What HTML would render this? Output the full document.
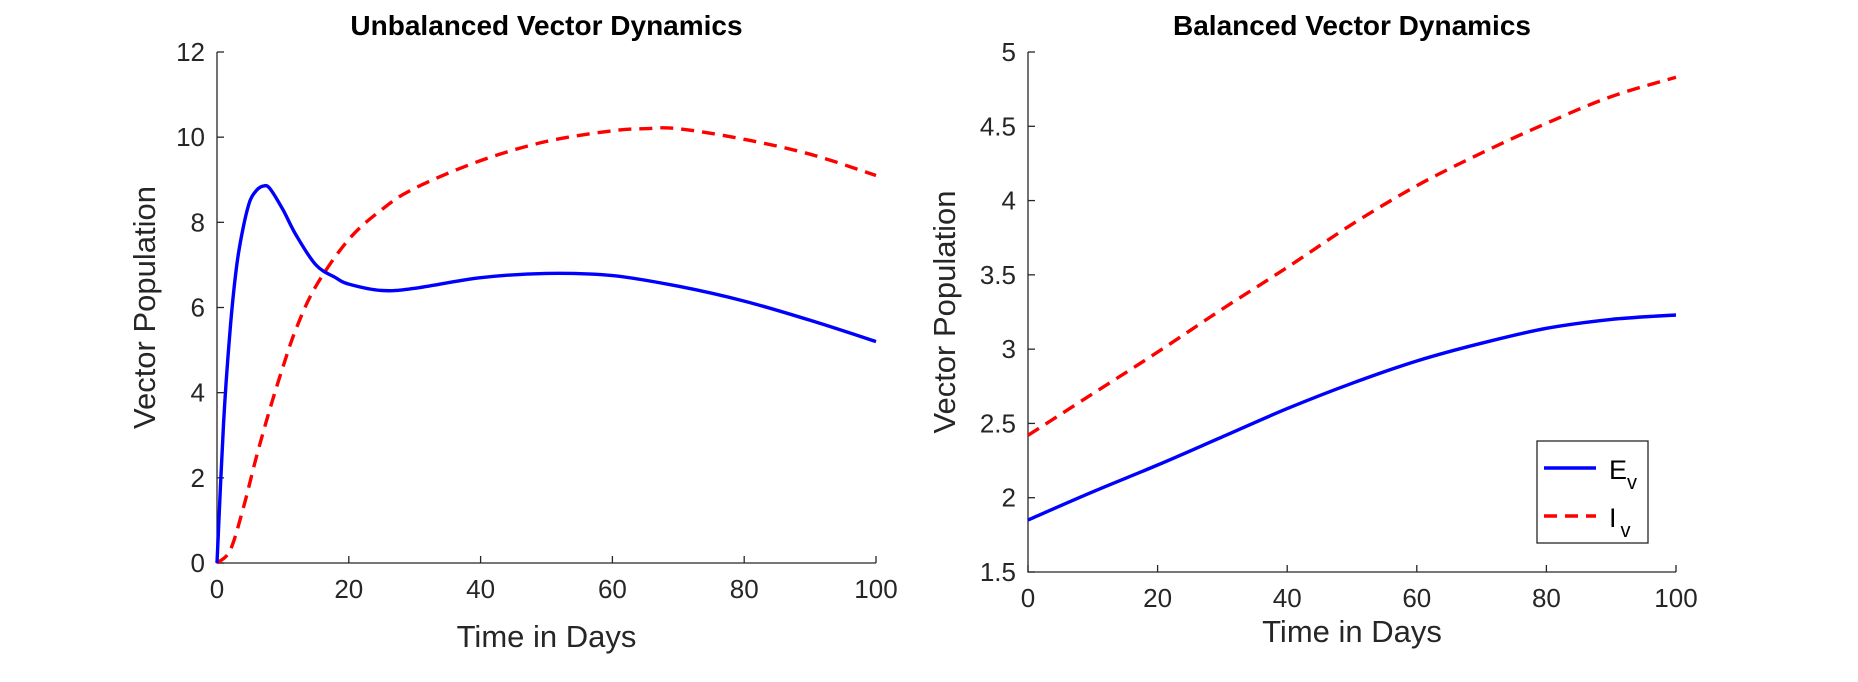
<!DOCTYPE html>
<html><head><meta charset="utf-8"><style>
html,body{margin:0;padding:0;background:#fff;}
svg{display:block;font-family:"Liberation Sans",sans-serif;}
</style></head><body>
<svg id="fig" width="1858" height="682" viewBox="0 0 1858 682"></svg>
<script>
const tA=[0,1,2,3,4,5,6,7,8,10,12,15,18,20,25,30,40,50,60,70,80,90,100];
const evA=[0,3.3,5.5,7.0,7.9,8.5,8.75,8.85,8.8,8.3,7.7,7.0,6.7,6.55,6.4,6.45,6.7,6.8,6.75,6.5,6.15,5.7,5.2];
const tA2=[0,2,4,6,8,10,12,15,20,25,30,40,50,60,65,70,80,90,100];
const ivA=[0,0.3,1.3,2.5,3.6,4.6,5.5,6.5,7.6,8.3,8.8,9.45,9.9,10.15,10.2,10.2,9.95,9.6,9.1];
const tB=[0,10,20,30,40,50,60,70,80,90,100];
const evB=[1.85,2.04,2.22,2.41,2.6,2.77,2.92,3.04,3.14,3.2,3.23];
const ivB=[2.42,2.7,2.98,3.27,3.55,3.84,4.1,4.32,4.52,4.7,4.83];
const xTicks=[0,20,40,60,80,100];
const yTicksA=[0,2,4,6,8,10,12];
const yTicksB=[1.5,2,2.5,3,3.5,4,4.5,5];
const NS="http://www.w3.org/2000/svg";
const svg=document.getElementById('fig');
function mk(tag,attrs,parent){const e=document.createElementNS(NS,tag);for(const k in attrs)e.setAttribute(k,attrs[k]);(parent||svg).appendChild(e);return e;}
function smooth(P){
  let d='M'+P[0][0].toFixed(1)+','+P[0][1].toFixed(1);
  for(let i=0;i<P.length-1;i++){
    const p0=P[i-1]||P[i],p1=P[i],p2=P[i+1],p3=P[i+2]||P[i+1];
    const c1=[p1[0]+(p2[0]-p0[0])/6,p1[1]+(p2[1]-p0[1])/6];
    const c2=[p2[0]-(p3[0]-p1[0])/6,p2[1]-(p3[1]-p1[1])/6];
    d+=`C${c1[0].toFixed(1)},${c1[1].toFixed(1)} ${c2[0].toFixed(1)},${c2[1].toFixed(1)} ${p2[0].toFixed(1)},${p2[1].toFixed(1)}`;
  }
  return d;
}
function panel(p){
  const g=mk('g',{});
  
  
  const sx=v=>p.x0+(v-p.xmin)/(p.xmax-p.xmin)*(p.x1-p.x0);
  const sy=v=>p.y0-(v-p.ymin)/(p.ymax-p.ymin)*(p.y0-p.y1);
  const ax=mk('path',{d:`M${p.x0},${p.y1}V${p.y0}H${p.x1}`,stroke:'#262626','stroke-width':1.3,fill:'none'},g);
  
  
  xTicks.forEach(v=>{
    mk('line',{x1:sx(v),x2:sx(v),y1:p.y0,y2:p.y0-7,stroke:'#262626','stroke-width':1.3},g);
    const t=mk('text',{x:sx(v),y:p.y0+35,'font-size':26,'text-anchor':'middle',fill:'#262626'},g);
    t.textContent=v;
    
    
  });
  p.yt.forEach(v=>{
    mk('line',{x1:p.x0,x2:p.x0+7,y1:sy(v),y2:sy(v),stroke:'#262626','stroke-width':1.3},g);
    const t=mk('text',{x:p.x0-12,y:sy(v)+9,'font-size':26,'text-anchor':'end',fill:'#262626'},g);
    t.textContent=v;
    
    
  });
  const ln=(ts,vs,col,dash,nm)=>{
    const e=mk('path',{d:smooth(ts.map((t,i)=>[sx(t),sy(vs[i])])),stroke:col,'stroke-width':3.4,fill:'none','stroke-dasharray':dash,'stroke-linejoin':'round'},g);
    
    
  };
  ln(p.ti,p.iv,'#ff0000','13,8','iv-line');
  ln(p.te,p.ev,'#0000ff','none','ev-line');
  const tt=mk('text',{x:(p.x0+p.x1)/2,y:35,'font-size':28,'font-weight':'bold','text-anchor':'middle',fill:'#000'},g);
  tt.textContent=p.title;
  
  
  const xl=mk('text',{x:(p.x0+p.x1)/2,y:p.y0+p.xlo,'font-size':31,'text-anchor':'middle',fill:'#262626'},g);
  xl.textContent='Time in Days';
  
  
  const cy=(p.y0+p.y1)/2;
  const yl=mk('text',{x:p.ylx,y:cy,'font-size':31,'text-anchor':'middle',fill:'#262626',transform:`rotate(-90 ${p.ylx} ${cy})`},g);
  yl.textContent='Vector Population';
  
  
}
panel({name:'unbalanced-panel',title:'Unbalanced Vector Dynamics',x0:217,x1:876,y0:563,y1:52,xmin:0,xmax:100,ymin:0,ymax:12,yt:yTicksA,te:tA,ev:evA,ti:tA2,iv:ivA,ylx:155,xlo:84});
panel({name:'balanced-panel',title:'Balanced Vector Dynamics',x0:1028,x1:1676,y0:572,y1:52,xmin:0,xmax:100,ymin:1.5,ymax:5,yt:yTicksB,te:tB,ev:evB,ti:tB,iv:ivB,ylx:955,xlo:70});
const lg=mk('g',{});


mk('rect',{x:1537,y:441,width:111,height:102,fill:'#fff',stroke:'#262626','stroke-width':1.3},lg);
mk('line',{x1:1544,x2:1596,y1:468,y2:468,stroke:'#0000ff','stroke-width':3.4},lg);
mk('line',{x1:1544,x2:1596,y1:516,y2:516,stroke:'#ff0000','stroke-width':3.4,'stroke-dasharray':'13,8'},lg);
const l1=mk('text',{x:1609,y:479,'font-size':27,fill:'#000'},lg);
l1.innerHTML='E<tspan dy="10" font-size="20">v</tspan>';


const l2=mk('text',{x:1609,y:527,'font-size':27,fill:'#000'},lg);
l2.innerHTML='I<tspan dx="4" dy="10" font-size="20">v</tspan>';


</script>
</body></html>
